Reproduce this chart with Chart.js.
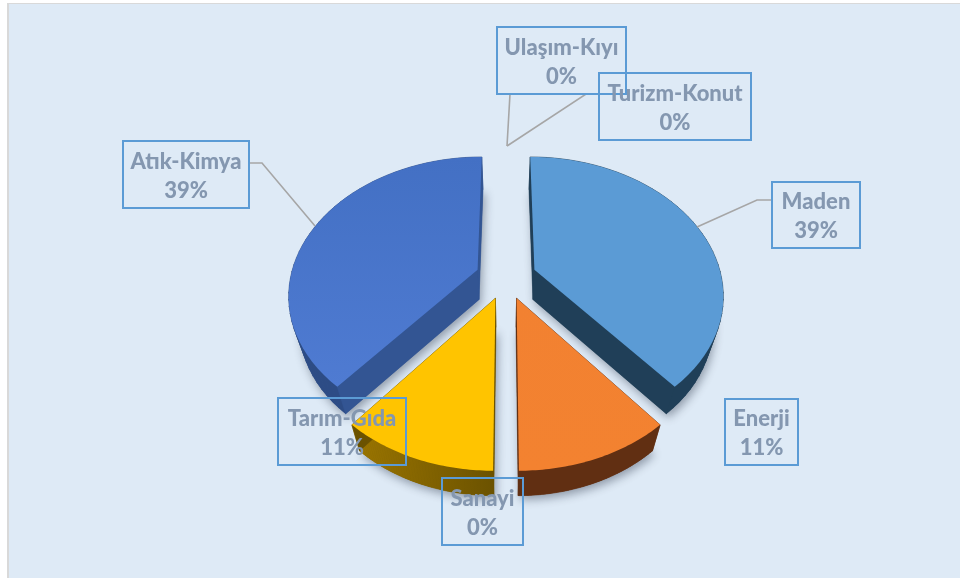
<!DOCTYPE html>
<html>
<head>
<meta charset="utf-8">
<style>
  html, body { margin: 0; padding: 0; background: #fff; }
  canvas { display: block; }
</style>
<script src="https://cdn.jsdelivr.net/npm/chart.js@4"></script>
</head>
<body>
<canvas id="pieChart" width="960" height="578"></canvas>
<script>
const sectors = ['Maden', 'Enerji', 'Sanayi', 'Tarım-Gıda', 'Atık-Kimya', 'Ulaşım-Kıyı', 'Turizm-Konut'];
const shares = [39, 11, 0, 11, 39, 0, 0];
const topColors = ['#5b9bd5', '#f28131', '#a5a5a5', '#ffc400', '#4370c4', '#264478', '#7f7f7f'];
const topShades = ['#5b9bd5', '#f38230', '#a5a5a5', '#ffc400', '#4f7bd2', '#264478', '#7f7f7f'];
const wallColors = ['#203f58', '#612f12', '#555555', '#6b5200', '#335593', '#1a2f55', '#444444'];
const rimColors = ['#203f58', '#612f12', '#555555', '#9c7600', '#2d4c85', '#1a2f55', '#444444'];

// label boxes and leader lines, pixels on the page
const labelBoxes = {
  'Maden': { box: [772, 182, 860, 248], leader: [[772, 200], [757, 200], [697, 227]] },
  'Enerji': { box: [725, 399, 798, 465] },
  'Sanayi': { box: [442, 478, 523, 545] },
  'Tarım-Gıda': { box: [278, 398, 406, 465] },
  'Atık-Kimya': { box: [123, 141, 249, 208], leader: [[249, 163], [262, 163], [315, 226]] },
  'Ulaşım-Kıyı': { box: [497, 27, 626, 94], leader: [[520, 94], [510, 94], [507, 146]] },
  'Turizm-Konut': { box: [599, 73, 751, 140], leader: [[599, 94], [586, 94], [507, 146]] }
};

// perspective of the pie disc
const view = { cx: 506, cy: 277, rx: 187, ry: 134.5, tilt: 0.1727, explode: 0.163, depth: 30 };

function projectTop(wx, wy) {
  const s = 1 / (1 - view.tilt * wy);
  return [view.cx + view.rx * wx * s, view.cy + view.ry * wy * s];
}

function projectBottom(wx, wy) {
  const [x, y] = projectTop(wx, wy);
  return [view.cx + (x - view.cx) * 0.95, y + view.depth - (y - 268) * 0.025];
}

function slicePoints(arc) {
  const mid = (arc.startAngle + arc.endAngle) / 2;
  const ox = Math.cos(mid) * view.explode;
  const oy = Math.sin(mid) * view.explode;
  const pts = [[ox, oy]];
  const steps = 48;
  for (let i = 0; i <= steps; i++) {
    const a = arc.startAngle + (arc.endAngle - arc.startAngle) * i / steps;
    pts.push([ox + Math.cos(a), oy + Math.sin(a)]);
  }
  return pts;
}

function tracePolygon(ctx, points) {
  ctx.beginPath();
  points.forEach(([x, y], i) => (i ? ctx.lineTo(x, y) : ctx.moveTo(x, y)));
  ctx.closePath();
}

function fillQuad(ctx, a, b, c, d, fill) {
  ctx.fillStyle = fill;
  ctx.strokeStyle = fill;
  ctx.lineWidth = 0.6;
  tracePolygon(ctx, [a, b, c, d]);
  ctx.fill();
  ctx.stroke();
}

function drawSlice(ctx, arc, index) {
  const world = slicePoints(arc);
  const top = world.map(p => projectTop(p[0], p[1]));
  const bottom = world.map(p => projectBottom(p[0], p[1]));
  const last = world.length - 1;

  // under side carries the soft drop shadow
  ctx.save();
  ctx.shadowColor = 'rgba(30, 40, 60, 0.42)';
  ctx.shadowBlur = 10;
  ctx.shadowOffsetX = 2;
  ctx.shadowOffsetY = 4;
  ctx.fillStyle = wallColors[index];
  tracePolygon(ctx, bottom);
  ctx.fill();
  ctx.restore();

  // rim
  const xs = top.map(p => p[0]);
  const ys = top.map(p => p[1]);
  const rim = ctx.createLinearGradient(Math.min(...xs), 0, Math.max(...xs), 0);
  rim.addColorStop(0, rimColors[index]);
  rim.addColorStop(1, index === 3 ? wallColors[index] : rimColors[index]);
  for (let i = 1; i < last; i++) {
    fillQuad(ctx, top[i], top[i + 1], bottom[i + 1], bottom[i], rim);
  }
  // radial walls
  fillQuad(ctx, top[0], top[1], bottom[1], bottom[0], wallColors[index]);
  fillQuad(ctx, top[0], top[last], bottom[last], bottom[0], wallColors[index]);

  const face = ctx.createLinearGradient(0, Math.min(...ys), 0, Math.max(...ys));
  face.addColorStop(0, topColors[index]);
  face.addColorStop(1, topShades[index]);
  ctx.fillStyle = face;
  tracePolygon(ctx, top);
  ctx.fill();
}

function drawLabels(ctx, chart) {
  const values = chart.data.datasets[0].data;
  const total = values.reduce((sum, v) => sum + v, 0);

  ctx.strokeStyle = '#a6a6a6';
  ctx.lineWidth = 1.6;
  chart.data.labels.forEach(name => {
    const line = labelBoxes[name].leader;
    if (!line) return;
    ctx.beginPath();
    line.forEach(([x, y], i) => (i ? ctx.lineTo(x, y) : ctx.moveTo(x, y)));
    ctx.stroke();
  });

  chart.data.labels.forEach((name, i) => {
    const [x1, y1, x2, y2] = labelBoxes[name].box;
    ctx.strokeStyle = '#5b9bd5';
    ctx.lineWidth = 2;
    ctx.strokeRect(x1, y1, x2 - x1, y2 - y1);

    const mx = (x1 + x2) / 2;
    const my = (y1 + y2) / 2;
    ctx.fillStyle = '#8497b0';
    ctx.font = '900 22px Lato, "Open Sans", sans-serif';
    ctx.textAlign = 'center';
    ctx.textBaseline = 'middle';
    ctx.fillText(name, mx, my - 13, x2 - x1 - 14);
    ctx.fillText(`${Math.round(values[i] / total * 100)}%`, mx, my + 16);
  });
}

const perspectivePie = {
  id: 'perspectivePie',
  beforeDraw(chart) {
    const ctx = chart.ctx;
    ctx.save();
    ctx.fillStyle = '#d9d9d9';
    ctx.fillRect(7, 3, 953, 575);
    ctx.fillStyle = '#deeaf6';
    ctx.fillRect(9, 4, 951, 574);
    ctx.restore();
  },
  beforeDatasetsDraw(chart) {
    const ctx = chart.ctx;
    const arcs = chart.getDatasetMeta(0).data;
    // back slices first, front ones paint over them
    const order = [4, 0, 1, 3];
    ctx.save();
    order.forEach(i => drawSlice(ctx, arcs[i], i));
    ctx.restore();
    drawLabels(ctx, chart);
    return false;
  }
};

document.addEventListener('DOMContentLoaded', () => {
  new Chart(document.getElementById('pieChart'), {
    type: 'pie',
    data: {
      labels: sectors,
      datasets: [{ data: shares, backgroundColor: topColors }]
    },
    options: {
      responsive: false,
      animation: false,
      plugins: {
        legend: { display: false },
        tooltip: { enabled: false }
      }
    },
    plugins: [perspectivePie]
  });
});
</script>
</body>
</html>
